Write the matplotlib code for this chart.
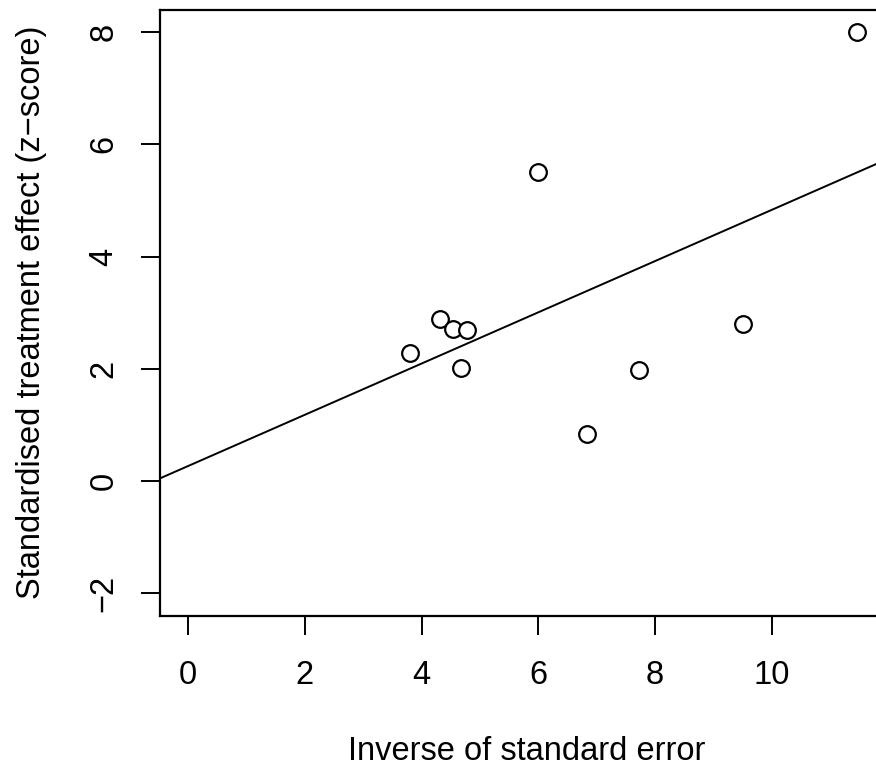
import numpy as np
import matplotlib
matplotlib.use('Agg')
import matplotlib.pyplot as plt

plt.rcParams['font.family'] = ['Liberation Sans', 'DejaVu Sans']

# precision (1/SE) and standardised effect (z) for each trial
precision = [3.80, 4.31, 4.54, 4.78, 4.67, 6.00, 6.84, 7.73, 9.50, 11.46]
z_score = [2.29, 2.88, 2.71, 2.70, 2.02, 5.50, 0.84, 1.98, 2.79, 8.01]

xticks = [0, 2, 4, 6, 8, 10]
yticks = [-2, 0, 2, 4, 6, 8]

fig = plt.figure(figsize=(8.76, 7.71), dpi=100)
# plot region runs past the right edge, like the cropped original
ax = fig.add_axes([160/876, 1 - 615.6/771, 756.5/876, 605.8/771])

ax.plot(precision, z_score, 'o', mfc='white', mec='black', ms=12, mew=1.6)

# Egger regression line
slope, icpt = np.polyfit(precision, z_score, 1)
ax.axline((0, icpt), slope=slope, color='black', lw=1.4)

ax.set_xlim(-0.48, 12.48)
ax.set_ylim(-2.4, 8.4)
ax.set_xticks(xticks)
ax.set_yticks(yticks)
ax.set_yticklabels([str(t).replace('-', '\u2212') for t in yticks], rotation=90, va='center')

for s in ax.spines.values():
    s.set_linewidth(1.6)
ax.tick_params(length=14, width=1.4, labelsize=23.5)
ax.tick_params(axis='x', pad=18)
ax.tick_params(axis='y', pad=15)

ax.set_xlabel('Inverse of standard error', fontsize=23.5)
ax.xaxis.set_label_coords(0.485, -0.198)
ax.set_ylabel('Standardised treatment effect (z\u2212score)', fontsize=23.5, labelpad=30)

fig.savefig('out.png', dpi=100)
